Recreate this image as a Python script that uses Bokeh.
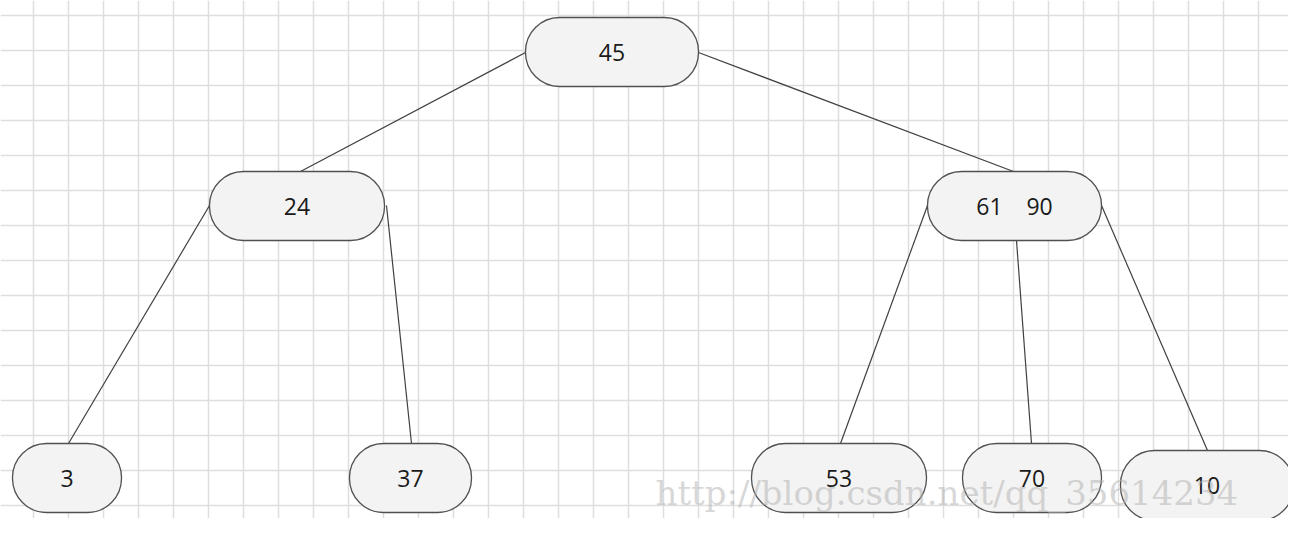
import numpy as np
from bokeh.plotting import figure
from bokeh.models import FixedTicker, Range1d
from bokeh.core.properties import value
from bokeh.embed import file_html
from bokeh.resources import INLINE

# node boxes (picture coordinates): label, left, right, top, bottom
labels = ["45", "24", "61\u00a0\u00a0\u00a0\u00a090", "3", "37", "53", "70", "10"]
left = [525, 209, 927, 12, 349, 751, 962, 1120]
right = [698, 384, 1101, 121, 471, 926, 1101, 1293]
top = [17, 171, 171, 443, 443, 443, 443, 450]
bottom = [86, 240, 240, 512, 512, 512, 512, 520]

# edges: start (x, y) -> end (x, y)
ex0 = [525, 698, 209, 386, 927, 1016, 1101]
ey0 = [52, 52, 205, 205, 205, 240, 205]
ex1 = [300, 1013, 68, 411, 840, 1031, 1207]
ey1 = [171, 171, 443, 443, 443, 443, 450]

p = figure(width=1288, height=518, output_backend="svg", toolbar_location=None,
           min_border=0, outline_line_color=None)
p.x_range = Range1d(0, 1288)
p.y_range = Range1d(518, 0)
p.axis.visible = False
p.xgrid.ticker = FixedTicker(ticks=list(np.arange(33, 1300, 35)))
p.ygrid.ticker = FixedTicker(ticks=list(np.arange(15, 540, 35)))
p.grid.grid_line_color = "#dedede"
p.grid.grid_line_width = 1.5

p.segment(ex0, ey0, ex1, ey1, line_color="#404040", line_width=1.2)

p.quad(left=left, right=right, top=top, bottom=bottom, fill_color="#f3f3f3",
       line_color="#505050", line_width=1.3, border_radius=34)

cx = [(a + b) / 2 for a, b in zip(left, right)]
cy = [(a + b) / 2 for a, b in zip(top, bottom)]
p.text(cx, cy, text=labels, text_align="center", text_baseline="middle",
       text_font=value("Open Sans"), text_font_size="23px", text_color="#1a1a1a")

p.text([655], [492], text=["http://blog.csdn.net/qq_35614234"], text_color="#b0b0b0",
       text_font=value("DejaVu Serif"), text_font_size="34px", text_baseline="middle",
       text_alpha=0.5)

open("out.html", "w").write(file_html(p, INLINE))
